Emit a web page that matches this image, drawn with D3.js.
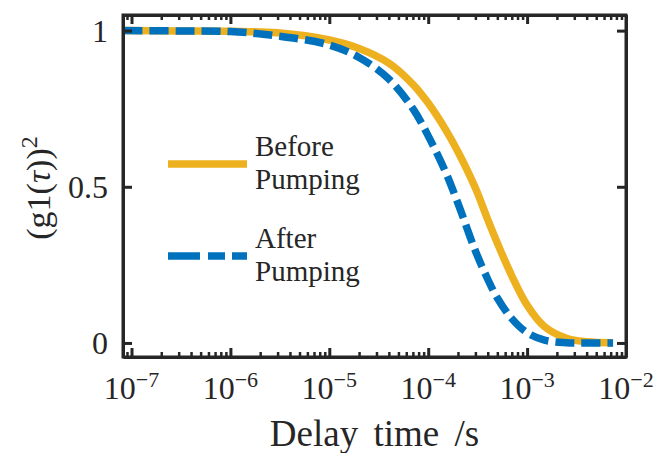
<!DOCTYPE html>
<html>
<head>
<meta charset="utf-8">
<script src="https://cdn.jsdelivr.net/npm/d3@7"></script>
<style>
  body { margin: 0; background: #fff; }
  text { font-family: "Liberation Serif", "Times New Roman", serif; fill: #262626; }
</style>
</head>
<body>
<script>
// delay times (s), shared by both series
const tau = [8.3e-8, 3e-7, 1e-6, 3e-6, 1e-5, 2e-5, 4e-5, 7e-5, 1e-4, 1.5e-4, 2e-4,
  3e-4, 4e-4, 5e-4, 7e-4, 1e-3, 1.5e-3, 2.5e-3, 4e-3, 7.4e-3];
const before = [1.0, 0.999, 0.998, 0.993, 0.970, 0.943, 0.896, 0.828, 0.768, 0.683, 0.612,
  0.496, 0.395, 0.320, 0.215, 0.121, 0.052, 0.015, 0.004, 0.001];
const after = [1.0, 0.999, 0.997, 0.983, 0.954, 0.914, 0.845, 0.750, 0.663, 0.547, 0.447,
  0.295, 0.204, 0.144, 0.078, 0.033, 0.009, 0.001, 0.0, 0.0];

const xMajor = [1e-7, 1e-6, 1e-5, 1e-4, 1e-3, 1e-2];
const xExp = [-7, -6, -5, -4, -3, -2];
const yTicks = [0, 0.5, 1];
const yTickLabels = ["0", "0.5", "1"];

const width = 657, height = 453;
const margin = { top: 15, right: 31, bottom: 96, left: 123 };
const axisColor = "#262626";

const svg = d3.select("body").append("svg")
  .attr("width", width)
  .attr("height", height);

const xscale = d3.scaleLog()
  .domain([Math.pow(10, -7.086), 1e-2])
  .range([margin.left, width - margin.right]);
const yscale = d3.scaleLinear()
  .domain([-0.045, 1.05])
  .range([height - margin.bottom, margin.top]);

// minor ticks: 2..9 times each decade inside the domain
const xMinor = [];
for (let e = -8; e <= -3; e++) {
  for (let k = 2; k <= 9; k++) {
    const v = k * Math.pow(10, e);
    if (v >= xscale.domain()[0] && v < 1e-2) xMinor.push(v);
  }
}

const x0 = margin.left, x1 = width - margin.right;
const y0 = height - margin.bottom, y1 = margin.top;

// clip for the curves
svg.append("clipPath").attr("id", "clip")
  .append("rect")
  .attr("x", x0).attr("y", y1)
  .attr("width", x1 - x0).attr("height", y0 - y1);

// curves
const line = (vals) => d3.line()
  .x((d, i) => xscale(tau[i]))
  .y((d) => yscale(d))
  .curve(d3.curveCatmullRom.alpha(0.5))(vals);

const plot = svg.append("g").attr("clip-path", "url(#clip)");
plot.append("path")
  .attr("d", line(before))
  .attr("fill", "none")
  .attr("stroke", "#EDB120")
  .attr("stroke-width", 7.5);
plot.append("path")
  .attr("d", line(after))
  .attr("fill", "none")
  .attr("stroke", "#0072BD")
  .attr("stroke-width", 7.5)
  .attr("stroke-dasharray", "19,7");

// axes, ticks pointing inward on all four sides
function styleAxis(g, w) {
  g.selectAll("path").attr("stroke", axisColor).attr("stroke-width", 3);
  g.selectAll("line").attr("stroke", axisColor).attr("stroke-width", w);
}

const gx = svg.append("g").attr("transform", `translate(0,${y0})`);
gx.call(d3.axisBottom(xscale).tickValues(xMajor).tickSizeInner(-9).tickSizeOuter(0).tickFormat(""));
styleAxis(gx, 3);
const gxm = svg.append("g").attr("transform", `translate(0,${y0})`);
gxm.call(d3.axisBottom(xscale).tickValues(xMinor).tickSize(-5).tickFormat(""));
gxm.select(".domain").remove();
styleAxis(gxm, 2.5);

const gxt = svg.append("g").attr("transform", `translate(0,${y1})`);
gxt.call(d3.axisTop(xscale).tickValues(xMajor).tickSizeInner(-9).tickSizeOuter(0).tickFormat(""));
styleAxis(gxt, 3);
const gxtm = svg.append("g").attr("transform", `translate(0,${y1})`);
gxtm.call(d3.axisTop(xscale).tickValues(xMinor).tickSize(-5).tickFormat(""));
gxtm.select(".domain").remove();
styleAxis(gxtm, 2.5);

const gy = svg.append("g").attr("transform", `translate(${x0},0)`);
gy.call(d3.axisLeft(yscale).tickValues(yTicks).tickSizeInner(-9).tickSizeOuter(0).tickFormat(""));
styleAxis(gy, 3);
const gyr = svg.append("g").attr("transform", `translate(${x1},0)`);
gyr.call(d3.axisRight(yscale).tickValues(yTicks).tickSizeInner(-9).tickSizeOuter(0).tickFormat(""));
styleAxis(gyr, 3);

// make the frame meet cleanly at the corners
svg.append("rect")
  .attr("x", x0).attr("y", y1)
  .attr("width", x1 - x0).attr("height", y0 - y1)
  .attr("fill", "none")
  .attr("stroke", axisColor)
  .attr("stroke-width", 3);

// x tick labels 10^n
const xl = svg.append("g").attr("font-size", 32);
xMajor.forEach((v, i) => {
  const t = xl.append("text")
    .attr("x", xscale(v))
    .attr("y", y0 + 42)
    .attr("text-anchor", "middle");
  t.append("tspan").text("10");
  t.append("tspan").attr("dy", -12).attr("font-size", 22).text("\u2212" + Math.abs(xExp[i]));
});

// y tick labels
svg.append("g").attr("font-size", 32)
  .selectAll("text")
  .data(yTicks)
  .join("text")
  .attr("x", x0 - 15)
  .attr("y", (d) => yscale(d))
  .attr("dy", "0.35em")
  .attr("text-anchor", "end")
  .text((d, i) => yTickLabels[i]);

// axis titles
svg.append("text")
  .attr("x", (x0 + x1) / 2)
  .attr("y", 446)
  .attr("text-anchor", "middle")
  .attr("font-size", 37)
  .attr("word-spacing", 6)
  .text("Delay time /s");

const yl = svg.append("text")
  .attr("transform", `translate(50,${(y0 + y1) / 2 + 2}) rotate(-90)`)
  .attr("text-anchor", "middle")
  .attr("font-size", 34);
yl.append("tspan").text("(g1(");
yl.append("tspan").attr("font-style", "italic").text("\u03C4");
yl.append("tspan").text("))");
yl.append("tspan").attr("dy", -13).attr("font-size", 24).text("2");

// legend (no box)
const legend = [
  { name: ["Before", "Pumping"], color: "#EDB120", dash: null, y: 164 },
  { name: ["After", "Pumping"], color: "#0072BD", dash: "32,8,17,7", y: 256 }
];
const lg = svg.append("g");
legend.forEach((d) => {
  lg.append("line")
    .attr("x1", 168).attr("x2", 247)
    .attr("y1", d.y).attr("y2", d.y)
    .attr("stroke", d.color)
    .attr("stroke-width", 7.5)
    .attr("stroke-dasharray", d.dash);
  lg.append("text").attr("x", 255).attr("y", d.y - 8)
    .attr("font-size", 29).text(d.name[0]);
  lg.append("text").attr("x", 255).attr("y", d.y + 24.5)
    .attr("font-size", 29).text(d.name[1]);
});
</script>
</body>
</html>
